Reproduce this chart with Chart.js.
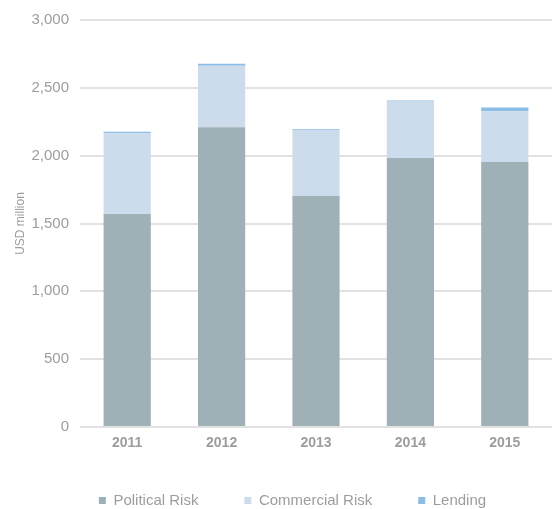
<!DOCTYPE html>
<html>
<head>
<meta charset="utf-8">
<script src="https://cdn.jsdelivr.net/npm/chart.js@4"></script>
<style>
  html, body { margin: 0; padding: 0; background: #fff; }
  #wrap { width: 557px; height: 509px; position: relative; }
</style>
</head>
<body>
<div id="wrap"><canvas id="c" width="557" height="509"></canvas></div>
<script>
const years = ['2011', '2012', '2013', '2014', '2015'];
const politicalRisk = [1570, 2210, 1702, 1983, 1953];
const commercialRisk = [595, 452, 488, 417, 374];
const lending = [12, 15, 5, 6, 28];
const yTicks = [0, 500, 1000, 1500, 2000, 2500, 3000];

const FONT = 'Helvetica, Arial, "Liberation Sans", sans-serif';
const GREY = '#9d9d9d';

const legendShift = {
  id: 'legendShift',
  afterLayout(chart) {
    if (chart.legend) { chart.legend.left += 12; chart.legend.right += 12; }
  }
};

new Chart(document.getElementById('c'), {
  type: 'bar',
  data: {
    labels: years,
    datasets: [
      { label: 'Political Risk', data: politicalRisk, backgroundColor: '#9fb0b7' },
      { label: 'Commercial Risk', data: commercialRisk, backgroundColor: '#cddcec' },
      { label: 'Lending', data: lending, backgroundColor: '#8bbde6' }
    ]
  },
  options: {
    responsive: false,
    animation: false,
    devicePixelRatio: 1,
    layout: { padding: { top: 18, right: 5, bottom: 0, left: 9 } },
    datasets: { bar: { categoryPercentage: 0.5, barPercentage: 1.0, borderWidth: 0 } },
    plugins: {
      tooltip: { enabled: false },
      legend: {
        position: 'bottom',
        maxHeight: 62,
        labels: {
          boxWidth: 7, boxHeight: 7, padding: 46,
          color: GREY,
          font: { family: FONT, size: 15 }
        }
      }
    },
    scales: {
      x: {
        stacked: true,
        grid: { display: false, drawTicks: false },
        border: { display: false },
        ticks: { color: GREY, padding: 8, font: { family: FONT, size: 14, weight: 'bold' } },
        afterFit(s) { s.height = 20; }
      },
      y: {
        stacked: true,
        min: 0, max: 3000,
        afterBuildTicks(s) { s.ticks = yTicks.map(v => ({ value: v })); },
        grid: { color: '#e2e2e2', lineWidth: 2, drawTicks: false },
        border: { display: false },
        ticks: { color: GREY, padding: 11, font: { family: FONT, size: 15 } },
        title: { display: true, text: 'USD million', color: GREY, font: { family: FONT, size: 12 }, padding: { top: 4, bottom: 4 } },
        afterFit(s) { s.width = 71; }
      }
    }
  },
  plugins: [legendShift]
});
</script>
</body>
</html>
